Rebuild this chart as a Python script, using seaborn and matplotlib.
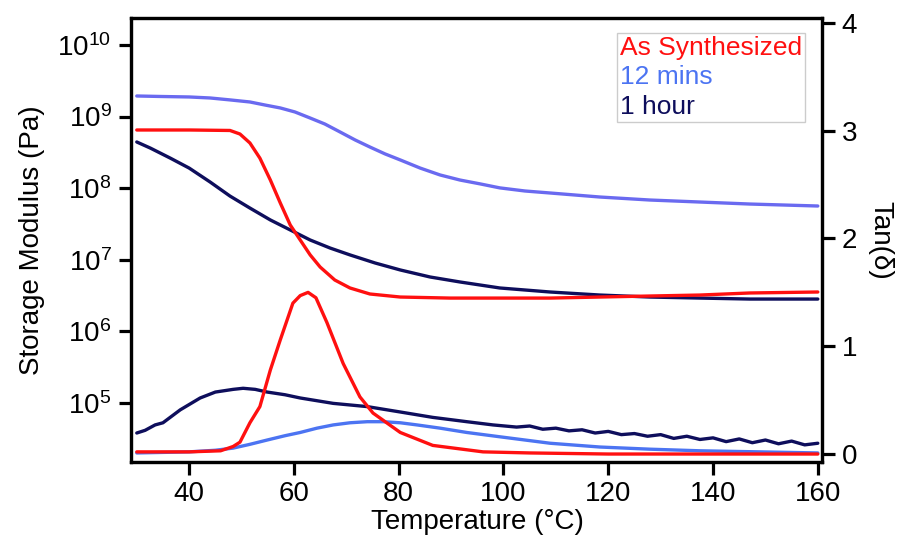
import math
import matplotlib
matplotlib.use("Agg")
import matplotlib.pyplot as plt
import seaborn as sns
from matplotlib.ticker import FixedLocator, FuncFormatter, NullLocator

# ---------------- data ----------------
series_labels = ["As Synthesized", "12 mins", "1 hour"]

# Storage modulus (Pa)
t_mod_as = [30, 40, 47.8, 49.7, 51.6, 53.5, 55.5, 57.4, 59.3, 61.2, 63.1, 65, 67.8,
            70.7, 74.5, 80.3, 89.8, 99.3, 108.9, 118.4, 127.9, 137.5, 147, 160]
mod_as = [6.5e8, 6.5e8, 6.4e8, 5.71e8, 4.28e8, 2.63e8, 1.30e8, 6.21e7, 3.06e7, 1.89e7,
          1.17e7, 7.93e6, 5.22e6, 4.04e6, 3.33e6, 3.02e6, 2.92e6, 2.92e6, 2.92e6,
          3.02e6, 3.12e6, 3.22e6, 3.44e6, 3.55e6]

t_mod_12 = [30, 34.5, 40, 44, 47.8, 51.6, 54.5, 57.4, 60.2, 63.1, 65.9, 68.8, 71.7,
            74.5, 77.4, 80.3, 84.1, 87.9, 91.7, 95.5, 99.3, 104.1, 108.9, 118.4, 127.9,
            137.5, 147, 160]
mod_12 = [1.94e9, 1.91e9, 1.88e9, 1.82e9, 1.71e9, 1.60e9, 1.45e9, 1.32e9, 1.16e9,
          9.55e8, 7.88e8, 6.10e8, 4.71e8, 3.76e8, 3.01e8, 2.48e8, 1.91e8, 1.53e8,
          1.30e8, 1.15e8, 1.01e8, 9.14e7, 8.57e7, 7.53e7, 6.84e7, 6.41e7, 6.01e7, 5.64e7]

t_mod_1h = [30, 32.6, 36.4, 40, 44, 47.8, 51.6, 55.5, 59.3, 63.1, 66.9, 70.7, 75.5,
            80.3, 86, 91.7, 99.3, 108.9, 118.4, 127.9, 137.5, 147, 160]
mod_1h = [4.42e8, 3.63e8, 2.63e8, 1.91e8, 1.22e8, 7.76e7, 5.28e7, 3.60e7, 2.61e7,
          1.89e7, 1.46e7, 1.17e7, 9.02e6, 7.21e6, 5.75e6, 4.90e6, 4.04e6, 3.55e6,
          3.22e6, 3.02e6, 2.92e6, 2.83e6, 2.83e6]

# Tan(delta)
t_tan_as = [30, 40, 46, 48.4, 49.7, 51.6, 53.5, 55.5, 57.4, 59.8, 61.2, 62.7, 64.2,
            66.3, 69.4, 72.6, 75.1, 80.3, 86.5, 96.1, 105, 120, 140, 160]
tan_as = [0.02, 0.02, 0.03, 0.07, 0.11, 0.29, 0.44, 0.78, 1.06, 1.40, 1.47, 1.50, 1.45,
          1.22, 0.84, 0.53, 0.38, 0.20, 0.08, 0.02, 0.01, 0.0, 0.0, 0.0]

t_tan_12 = [30, 40, 45, 48.4, 51.6, 54.9, 58.3, 61.2, 64.4, 67.5, 70.7, 74, 77, 80.3,
            83.5, 87.9, 93, 99.3, 108.9, 118.4, 127.9, 137.5, 148.9, 160]
tan_12 = [0.01, 0.02, 0.035, 0.055, 0.09, 0.13, 0.17, 0.20, 0.24, 0.27, 0.29, 0.30,
          0.30, 0.29, 0.27, 0.24, 0.20, 0.16, 0.10, 0.065, 0.045, 0.03, 0.02, 0.01]

t_tan_1h = [30, 31.6, 33.5, 35, 38.3, 42.1, 45, 48.4, 50.3, 52.6, 54.9, 58.3, 61.2,
            67.5, 74, 80.3, 86.5, 93, 98, 102.5, 105, 107.5, 110, 112.5, 115, 117.5,
            120, 122.5, 125, 127.5, 130, 132.5, 135, 137.5, 140, 142.5, 145, 147.5,
            150, 152.5, 155, 157.5, 160]
tan_1h = [0.195, 0.22, 0.27, 0.29, 0.41, 0.52, 0.575, 0.60, 0.61, 0.60, 0.575, 0.55,
          0.52, 0.47, 0.44, 0.39, 0.34, 0.30, 0.27, 0.25, 0.26, 0.23, 0.24, 0.215,
          0.225, 0.195, 0.21, 0.18, 0.19, 0.165, 0.18, 0.145, 0.165, 0.135, 0.15,
          0.115, 0.14, 0.105, 0.13, 0.095, 0.12, 0.085, 0.10]

x_ticks = [40, 60, 80, 100, 120, 140, 160]
y_left_ticks = [1e5, 1e6, 1e7, 1e8, 1e9, 1e10]
y_right_ticks = [0, 1, 2, 3, 4]

# ---------------- style ----------------
sns.set_style("ticks")
plt.rcParams["font.family"] = ["Liberation Sans", "DejaVu Sans"]
plt.rcParams["mathtext.default"] = "regular"
plt.rcParams["text.color"] = "black"
plt.rcParams["axes.labelcolor"] = "black"

RED = "#ff1010"
BLUE_MOD = "#6a6af0"
BLUE_TAN = "#4c74f2"
NAVY = "#0e0e5c"
LW = 2.4

fig = plt.figure(figsize=(8.98, 5.40), dpi=100)
ax = fig.add_axes([131 / 898, 1 - 462 / 540, 691 / 898, 444 / 540])
ax2 = ax.twinx()

# modulus lines (left, log)
sns.lineplot(x=t_mod_12, y=mod_12, ax=ax, color=BLUE_MOD, lw=LW, estimator=None, sort=False)
sns.lineplot(x=t_mod_1h, y=mod_1h, ax=ax, color=NAVY, lw=LW, estimator=None, sort=False)
sns.lineplot(x=t_mod_as, y=mod_as, ax=ax, color=RED, lw=LW, estimator=None, sort=False)

# tan delta lines (right)
sns.lineplot(x=t_tan_1h, y=tan_1h, ax=ax2, color=NAVY, lw=LW, estimator=None, sort=False)
sns.lineplot(x=t_tan_12, y=tan_12, ax=ax2, color=BLUE_TAN, lw=LW, estimator=None, sort=False)
sns.lineplot(x=t_tan_as, y=tan_as, ax=ax2, color=RED, lw=LW, estimator=None, sort=False)

ax.set_yscale("log")
ax.set_xlim(28.9, 160.8)
ax.set_ylim(10 ** 4.176, 10 ** 10.377)
ax2.set_ylim(-0.074, 4.046)

ax.xaxis.set_major_locator(FixedLocator(x_ticks))
ax.yaxis.set_major_locator(FixedLocator(y_left_ticks))
ax.yaxis.set_minor_locator(NullLocator())
ax.yaxis.set_major_formatter(FuncFormatter(lambda v, p: r"$\mathregular{10^{%d}}$" % round(math.log10(v))))
ax2.yaxis.set_major_locator(FixedLocator(y_right_ticks))

for a in (ax, ax2):
    for s in a.spines.values():
        s.set_linewidth(2.3)
        s.set_color("black")
    a.tick_params(axis="both", which="major", direction="out", length=9, width=2.3,
                  labelsize=20, pad=5, colors="black")

ax.set_xlabel("Temperature (°C)", fontsize=20)
ax.set_ylabel("Storage Modulus (Pa)", fontsize=20)
ax2.set_ylabel("Tan(δ)", fontsize=20, rotation=270, va="bottom")
ax.xaxis.set_label_coords(0.502, -0.105)
ax.yaxis.set_label_coords(-0.125, 0.5)
ax2.yaxis.set_label_coords(1.065, 0.5)

handles = ax.get_lines()
order = [2, 0, 1]
leg = ax2.legend([handles[i] for i in order], series_labels, loc="upper left",
                 bbox_to_anchor=((617 - 131) / 691, (462 - 33) / 444), borderaxespad=0,
                 handlelength=0, handletextpad=0, borderpad=0.12, labelspacing=0.2,
                 fontsize=19, frameon=True, fancybox=False, framealpha=1,
                 edgecolor="#cccccc", labelcolor=[RED, BLUE_TAN, NAVY])
leg.get_frame().set_linewidth(1.0)
for h in leg.legend_handles:
    h.set_visible(False)

fig.savefig("out.png", dpi=100)
